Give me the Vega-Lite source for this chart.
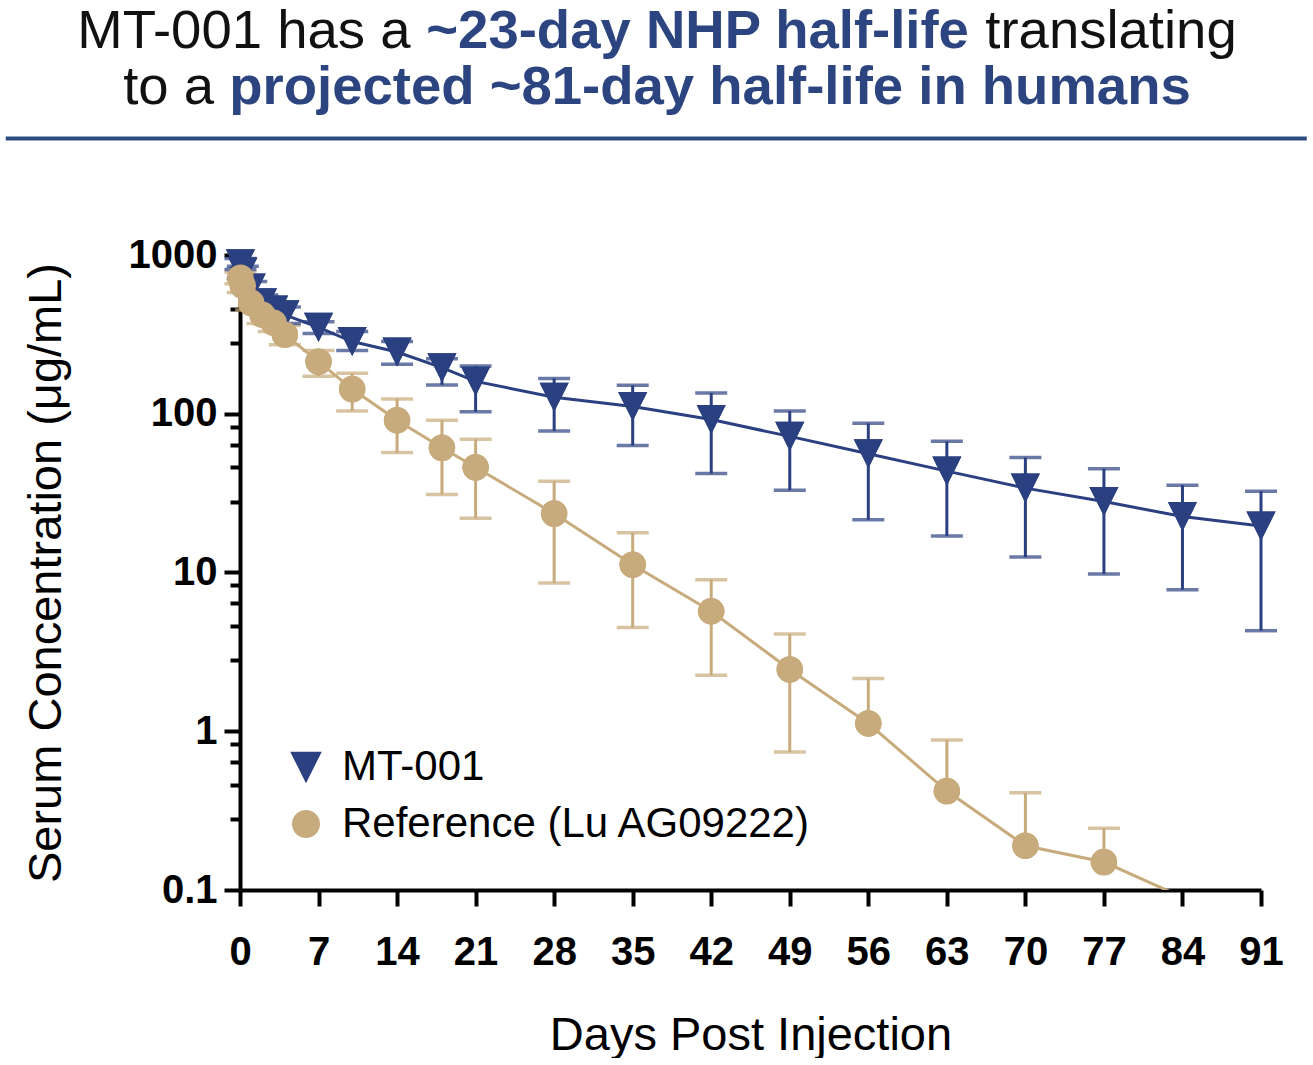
{
  "$schema": "https://vega.github.io/schema/vega-lite/v6.json",
  "background": "white",
  "padding": {"left": 5, "right": 5, "top": 4, "bottom": 0},
  "config": {
    "view": {"stroke": null},
    "font": "Liberation Sans",
    "axis": {
      "domainColor": "black", "domainWidth": 4, "tickColor": "black", "tickWidth": 4,
      "labelColor": "black", "labelFont": "Liberation Sans", "labelFontWeight": "bold", "labelFontSize": 40,
      "titleFont": "Liberation Sans", "titleFontWeight": "normal", "titleFontSize": 47, "titleColor": "black",
      "grid": false
    },
    "legend": {
      "orient": "bottom-left", "offset": 45,
      "labelFontSize": 42, "labelFont": "Liberation Sans", "labelColor": "black",
      "labelLimit": 900, "rowPadding": 15, "labelOffset": 15, "padding": 0, "symbolSize": 700
    }
  },
  "resolve": {"legend": {"color": "independent", "shape": "independent"}},
  "spacing": 90,
  "vconcat": [
    {
      "center": true, "align": "each", "spacing": 0,
      "vconcat": [
        {
          "align": "each", "spacing": 15,
          "hconcat": [
            {"width": 1, "height": 1, "data": {"values": [{}]}, "mark": "text", "encoding": {"text": {"value": ""}},
             "title": {"text": "MT-001 has a", "anchor": "start", "fontSize": 54.5, "fontWeight": "normal", "color": "#111111", "font": "Liberation Sans", "offset": -11}},
            {"width": 1, "height": 1, "data": {"values": [{}]}, "mark": "text", "encoding": {"text": {"value": ""}},
             "title": {"text": "~23-day NHP half-life", "anchor": "start", "fontSize": 54.5, "fontWeight": "bold", "color": "#2c4580", "font": "Liberation Sans", "offset": -11}},
            {"width": 1, "height": 1, "data": {"values": [{}]}, "mark": "text", "encoding": {"text": {"value": ""}},
             "title": {"text": "translating", "anchor": "start", "fontSize": 54.5, "fontWeight": "normal", "color": "#111111", "font": "Liberation Sans", "offset": -11}}
          ]
        },
        {
          "align": "each", "spacing": 15,
          "hconcat": [
            {"width": 1, "height": 1, "data": {"values": [{}]}, "mark": "text", "encoding": {"text": {"value": ""}},
             "title": {"text": "to a", "anchor": "start", "fontSize": 54.5, "fontWeight": "normal", "color": "#111111", "font": "Liberation Sans", "offset": 4}},
            {"width": 1, "height": 1, "data": {"values": [{}]}, "mark": "text", "encoding": {"text": {"value": ""}},
             "title": {"text": "projected ~81-day half-life in humans", "anchor": "start", "fontSize": 54.5, "fontWeight": "bold", "color": "#2c4580", "font": "Liberation Sans", "offset": 4}}
          ]
        },
        {
          "width": 1298, "height": 1,
          "view": {"stroke": "#2c4a80", "fill": "#2c4a80", "strokeWidth": 3},
          "data": {"values": [{}]}, "mark": "text", "encoding": {"text": {"value": ""}}
        }
      ]
    },
    {
      "align": "each", "spacing": 14,
      "resolve": {"legend": {"color": "independent", "shape": "independent"}},
      "hconcat": [
        {"width": 1, "height": 1, "data": {"values": [{}]}, "mark": "text", "encoding": {"text": {"value": ""}}},
        {
          "width": 1021, "height": 635,
          "data": {"values": [
            {"series": "MT-001", "day": 0.04, "mean": 880, "hi": 950, "lo": 810},
            {"series": "MT-001", "day": 0.25, "mean": 780, "hi": 850, "lo": 710},
            {"series": "MT-001", "day": 1, "mean": 620, "hi": 680, "lo": 560},
            {"series": "MT-001", "day": 2, "mean": 500, "hi": 560, "lo": 450},
            {"series": "MT-001", "day": 3, "mean": 450, "hi": 500, "lo": 400},
            {"series": "MT-001", "day": 4, "mean": 420, "hi": 470, "lo": 370},
            {"series": "MT-001", "day": 7, "mean": 350, "hi": 380, "lo": 320},
            {"series": "MT-001", "day": 10, "mean": 285, "hi": 330, "lo": 250},
            {"series": "MT-001", "day": 14, "mean": 245, "hi": 285, "lo": 205},
            {"series": "MT-001", "day": 18, "mean": 195, "hi": 222, "lo": 152},
            {"series": "MT-001", "day": 21, "mean": 160, "hi": 200, "lo": 103},
            {"series": "MT-001", "day": 28, "mean": 127, "hi": 167, "lo": 78},
            {"series": "MT-001", "day": 35, "mean": 111, "hi": 151, "lo": 63},
            {"series": "MT-001", "day": 42, "mean": 92, "hi": 135, "lo": 42},
            {"series": "MT-001", "day": 49, "mean": 72, "hi": 104, "lo": 33},
            {"series": "MT-001", "day": 56, "mean": 56, "hi": 87, "lo": 21.5},
            {"series": "MT-001", "day": 63, "mean": 43.5, "hi": 67, "lo": 17},
            {"series": "MT-001", "day": 70, "mean": 34, "hi": 53, "lo": 12.5},
            {"series": "MT-001", "day": 77, "mean": 28, "hi": 45, "lo": 9.8},
            {"series": "MT-001", "day": 84, "mean": 22.5, "hi": 35.5, "lo": 7.8},
            {"series": "MT-001", "day": 91, "mean": 19.6, "hi": 32.5, "lo": 4.3},
            {"series": "Reference (Lu AG09222)", "day": 0.04, "mean": 720, "hi": 780, "lo": 660},
            {"series": "Reference (Lu AG09222)", "day": 0.25, "mean": 640, "hi": 700, "lo": 580},
            {"series": "Reference (Lu AG09222)", "day": 1, "mean": 500, "hi": 560, "lo": 450},
            {"series": "Reference (Lu AG09222)", "day": 2, "mean": 420, "hi": 470, "lo": 370},
            {"series": "Reference (Lu AG09222)", "day": 3, "mean": 375, "hi": 420, "lo": 330},
            {"series": "Reference (Lu AG09222)", "day": 4, "mean": 315, "hi": 360, "lo": 272},
            {"series": "Reference (Lu AG09222)", "day": 7, "mean": 213, "hi": 250, "lo": 172},
            {"series": "Reference (Lu AG09222)", "day": 10, "mean": 143, "hi": 180, "lo": 104},
            {"series": "Reference (Lu AG09222)", "day": 14, "mean": 91, "hi": 124, "lo": 57},
            {"series": "Reference (Lu AG09222)", "day": 18, "mean": 61, "hi": 91, "lo": 31},
            {"series": "Reference (Lu AG09222)", "day": 21, "mean": 46, "hi": 69, "lo": 22},
            {"series": "Reference (Lu AG09222)", "day": 28, "mean": 23.5, "hi": 37.5, "lo": 8.6},
            {"series": "Reference (Lu AG09222)", "day": 35, "mean": 11.2, "hi": 17.8, "lo": 4.5},
            {"series": "Reference (Lu AG09222)", "day": 42, "mean": 5.7, "hi": 9.0, "lo": 2.25},
            {"series": "Reference (Lu AG09222)", "day": 49, "mean": 2.45, "hi": 4.1, "lo": 0.74},
            {"series": "Reference (Lu AG09222)", "day": 56, "mean": 1.12, "hi": 2.15, "lo": null},
            {"series": "Reference (Lu AG09222)", "day": 63, "mean": 0.42, "hi": 0.88, "lo": null},
            {"series": "Reference (Lu AG09222)", "day": 70, "mean": 0.19, "hi": 0.41, "lo": null},
            {"series": "Reference (Lu AG09222)", "day": 77, "mean": 0.15, "hi": 0.245, "lo": null},
            {"series": "Reference (Lu AG09222)", "day": 84, "mean": 0.09, "hi": null, "lo": null}
          ]},
          "encoding": {
            "x": {
              "field": "day", "type": "quantitative", "title": "Days Post Injection",
              "scale": {"domain": [0, 91], "nice": false, "zero": false},
              "axis": {
                "values": [0, 7, 14, 21, 28, 35, 42, 49, 56, 63, 70, 77, 84, 91],
                "tickSize": 16, "labelPadding": 26, "titlePadding": 40, "labelFlush": false, "labelOverlap": false
              }
            }
          },
          "layer": [
            {
              "transform": [{"filter": "datum.mean >= 0.1"}],
              "mark": {"type": "point", "filled": true, "opacity": 1, "size": 700},
              "encoding": {
                "y": {"field": "mean", "type": "quantitative", "axis": null,
                  "scale": {"type": "log", "domain": [0.1, 1000], "nice": false}},
                "color": {"field": "series", "type": "nominal", "legend": {"title": null},
                  "scale": {"domain": ["MT-001", "Reference (Lu AG09222)"], "range": ["#2b4080", "#c8ab7c"]}},
                "shape": {
                  "field": "series", "type": "nominal", "legend": {"title": null},
                  "scale": {"domain": ["MT-001", "Reference (Lu AG09222)"], "range": ["M-1.1,-1.1L1.1,-1.1L0,1.1Z", "circle"]}
                }
              }
            },
            {
              "mark": {"type": "rule", "strokeWidth": 3},
              "encoding": {
                "y": {
                  "field": "hi", "type": "quantitative",
                  "axis": {
                    "orient": "left", "title": null, "labels": false, "domain": false, "tickSize": 10,
                    "values": [0.28, 0.46, 0.64, 0.83, 2.8, 4.6, 6.4, 8.3, 28, 46, 64, 83, 280, 460, 640, 830]
                  }
                },
                "y2": {"field": "mean"},
                "color": {"field": "series", "type": "nominal", "legend": null}
              }
            },
            {
              "mark": {"type": "rule", "strokeWidth": 3},
              "encoding": {
                "y": {"field": "lo", "type": "quantitative", "axis": null},
                "y2": {"field": "mean"},
                "color": {"field": "series", "type": "nominal", "legend": null}
              }
            },
            {
              "mark": {"type": "tick", "orient": "horizontal", "size": 32, "thickness": 3.5},
              "encoding": {"y": {"field": "hi", "type": "quantitative", "axis": null},
                "color": {"field": "series", "type": "nominal", "legend": null}}
            },
            {
              "mark": {"type": "tick", "orient": "horizontal", "size": 32, "thickness": 3.5},
              "encoding": {"y": {"field": "lo", "type": "quantitative", "axis": null},
                "color": {"field": "series", "type": "nominal", "legend": null}}
            },
            {
              "mark": {"type": "line", "strokeWidth": 3, "clip": true},
              "encoding": {
                "y": {
                  "field": "mean", "type": "quantitative", "title": "Serum Concentration (μg/mL)",
                  "axis": {
                    "orient": "left", "values": [0.1, 1, 10, 100, 1000], "format": "~g",
                    "tickSize": 16, "labelPadding": 7, "titlePadding": 58
                  }
                },
                "color": {"field": "series", "type": "nominal", "legend": null}
              }
            },
            {
              "transform": [{"filter": "datum.mean >= 0.1"}],
              "mark": {"type": "point", "filled": true, "opacity": 1, "size": 700},
              "encoding": {
                "y": {"field": "mean", "type": "quantitative", "axis": null},
                "color": {"field": "series", "type": "nominal", "legend": null},
                "shape": {"field": "series", "type": "nominal", "legend": null}
              }
            }
          ],
          "resolve": {"axis": {"y": "independent"}}
        }
      ]
    }
  ]
}
